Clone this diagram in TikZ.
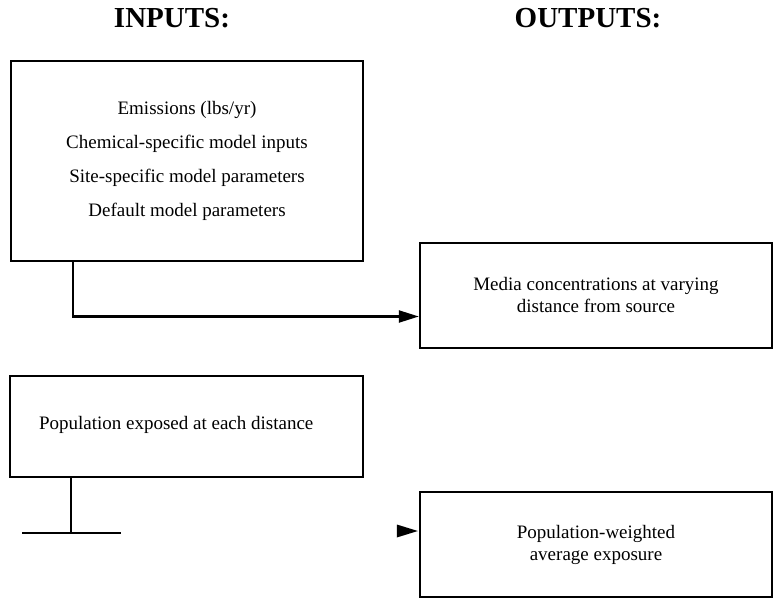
\documentclass[tikz,border=0pt]{standalone}
\usepackage{fontspec}
\setmainfont{Liberation Serif}
\usetikzlibrary{arrows.meta,calc}

\begin{document}
\begin{tikzpicture}[x=1pt,y=-1pt,
  box/.style={draw, line width=2.4pt, inner sep=0pt, align=center,
    minimum width=352pt, font=\fontsize{19}{22}\selectfont},
  heading/.style={anchor=base, font=\fontsize{29}{32}\selectfont\bfseries},
  label/.style={inner sep=0pt, font=\fontsize{19}{22}\selectfont},
  conn/.style={line width=2.2pt},
  tip/.style={-{Triangle[length=20pt,width=12pt]}}]

  \useasboundingbox (0,0) rectangle (774,599);

  % column headings
  \node[heading] (inhead) at (172,28) {INPUTS:};
  \node[heading] (outhead) at (588,28) {OUTPUTS:};

  % input boxes
  \node[box, minimum height=200pt, font=\fontsize{19}{34}\selectfont]
    (inputs) at (187,161)
    {Emissions (lbs/yr)\\Chemical-specific model inputs\\
     Site-specific model parameters\\Default model parameters};
  \node[box, minimum width=353pt, minimum height=101pt] (popbox) at (186.5,426.5) {};
  \node[label, anchor=west] (poplabel) at ($(popbox.west)+(30,-2)$)
    {Population exposed at each distance};

  % output boxes
  \node[box, minimum height=105pt] (media) at (596,295.5)
    {Media concentrations at varying\\distance from source};
  \node[box, minimum height=105pt] (exposure) at (596,544.5)
    {Population-weighted\\average exposure};

  % inputs feed the media concentrations
  \coordinate (instart) at ($(inputs.south west)+(63,-2)$);
  \coordinate (mediain) at ($(media.west)+(0,21)$);
  \draw[conn, tip] (instart) |- (mediain);

  % population branch
  \coordinate (popstart) at ($(popbox.south west)+(62.5,-1)$);
  \coordinate (tjoin) at ($(popbox.south west)+(62.5,54.5)$);
  \coordinate (tleft) at ($(tjoin)+(-49,0)$);
  \coordinate (tright) at ($(tjoin)+(50,0)$);
  \draw[conn] (popstart) -- (tjoin);
  \draw[conn] (tleft) -- (tright);

  % arrowhead into the exposure box
  \coordinate (exptip) at ($(exposure.west)+(-1,-13.5)$);
  \fill (exptip) -- ++(-21,-6.5) -- ++(0,13) -- cycle;
\end{tikzpicture}
\end{document}
